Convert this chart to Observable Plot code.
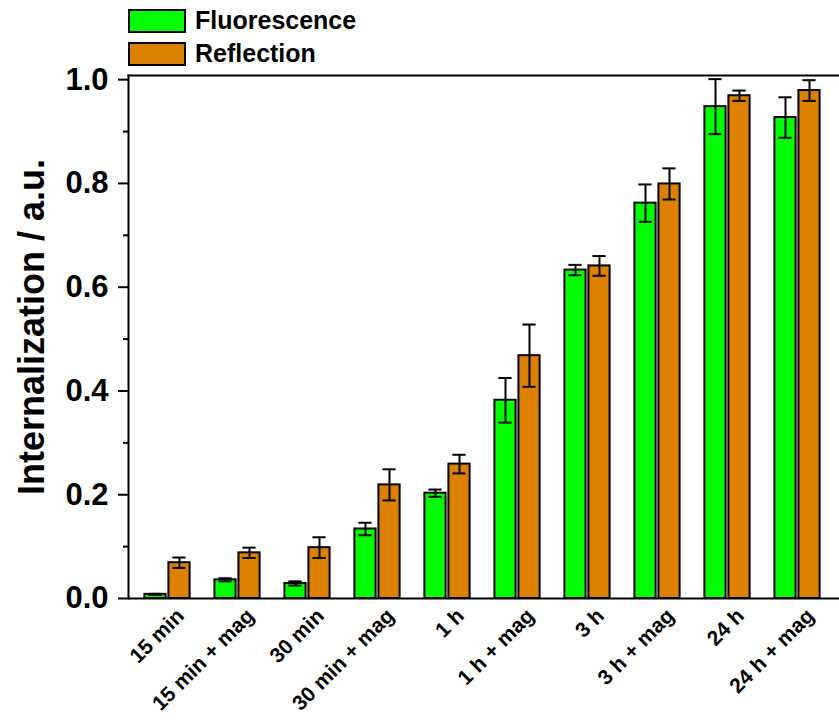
<!DOCTYPE html>
<html>
<head>
<meta charset="utf-8">
<script src="https://cdn.jsdelivr.net/npm/d3@7"></script>
<script src="https://cdn.jsdelivr.net/npm/@observablehq/plot@0.6"></script>
<style>
  body { margin: 0; background: #fff; }
  #wrap { position: relative; width: 839px; height: 721px; font-family: "Liberation Sans", Arial, sans-serif; }
  .lg { position: absolute; left: 128px; display: flex; align-items: center; font-weight: bold; font-size: 25px; color: #000; }
  .sw { width: 54px; height: 20px; border: 2px solid #000; margin-right: 9px; }
</style>
</head>
<body>
<div id="wrap">
  <div class="lg" style="top:6px"><div class="sw" style="background:#00ff00"></div><span>Fluorescence</span></div>
  <div class="lg" style="top:39px"><div class="sw" style="background:#de8000"></div><span>Reflection</span></div>
</div>
<script>
const categories = ["15 min", "15 min + mag", "30 min", "30 min + mag", "1 h", "1 h + mag", "3 h", "3 h + mag", "24 h", "24 h + mag"];
const fluorescence    = [0.008, 0.036, 0.029, 0.134, 0.203, 0.382, 0.633, 0.762, 0.948, 0.927];
const fluorescenceErr = [0.001, 0.003, 0.004, 0.012, 0.007, 0.043, 0.010, 0.036, 0.053, 0.039];
const reflection      = [0.069, 0.088, 0.098, 0.219, 0.259, 0.468, 0.641, 0.799, 0.969, 0.979];
const reflectionErr   = [0.010, 0.010, 0.020, 0.030, 0.018, 0.060, 0.019, 0.030, 0.010, 0.020];
const majorTicks = [0, 0.2, 0.4, 0.6, 0.8, 1.0];
const minorTicks = [0.1, 0.3, 0.5, 0.7, 0.9];
const yLabel = "Internalization / a.u.";

const green = "#00ff00", orange = "#de8000";
const fRows = categories.map((c, i) => ({cat: c, v: fluorescence[i], e: fluorescenceErr[i]}));
const rRows = categories.map((c, i) => ({cat: c, v: reflection[i], e: reflectionErr[i]}));

const half = 35.4;
const barStyle = {stroke: "#000", strokeWidth: 2};
const errMarks = (rows, side) => {
  const near = half + 5, far = half - 19;
  const ins = side < 0 ? {insetLeft: far, insetRight: near} : {insetLeft: near, insetRight: far};
  return [
    Plot.ruleX(rows, {x: "cat", y1: d => d.v - d.e, y2: d => d.v + d.e, dx: side * 12, stroke: "#000", strokeWidth: 2}),
    Plot.tickY(rows, {x: "cat", y: d => d.v + d.e, ...ins, stroke: "#000", strokeWidth: 2}),
    Plot.tickY(rows, {x: "cat", y: d => d.v - d.e, ...ins, stroke: "#000", strokeWidth: 2})
  ];
};

const chart = Plot.plot({
  width: 839,
  height: 721,
  marginLeft: 128,
  marginRight: 0,
  marginTop: 75,
  marginBottom: 123,
  style: {fontFamily: "'Liberation Sans', Arial, sans-serif", fontWeight: "bold", color: "#000", background: "transparent"},
  x: {type: "band", domain: categories, range: [128, 836], padding: 0},
  y: {domain: [0, 1.008]},
  marks: [
    Plot.barY(fRows, {x: "cat", y: "v", fill: green, ...barStyle, insetLeft: half - 23, insetRight: half + 1}),
    Plot.barY(rRows, {x: "cat", y: "v", fill: orange, ...barStyle, insetLeft: half + 1, insetRight: half - 23}),
    ...errMarks(fRows, -1),
    ...errMarks(rRows, 1),
    Plot.ruleY([0], {stroke: "#000", strokeWidth: 2}),
    Plot.frame({anchor: "top", stroke: "#000", strokeWidth: 2}),
    Plot.frame({anchor: "left", stroke: "#000", strokeWidth: 2}),
    Plot.axisY({ticks: majorTicks, tickFormat: d3.format(".1f"), tickSize: 10, tickPadding: 10, fontSize: 31, strokeWidth: 2, label: null}),
    Plot.axisY({ticks: minorTicks, tickFormat: () => "", tickSize: 5, strokeWidth: 2, label: null}),
    Plot.axisX({tickSize: 0, tickRotate: -45, tickPadding: 14, dx: 13, fontSize: 21, label: null}),
    Plot.text([yLabel], {frameAnchor: "left", textAnchor: "middle", rotate: -90, dx: -96, dy: -10, fontSize: 36, fontWeight: "bold", fill: "#000"})
  ]
});
chart.style.position = "absolute";
chart.style.left = "0";
chart.style.top = "0";
document.getElementById("wrap").prepend(chart);
</script>
</body>
</html>
